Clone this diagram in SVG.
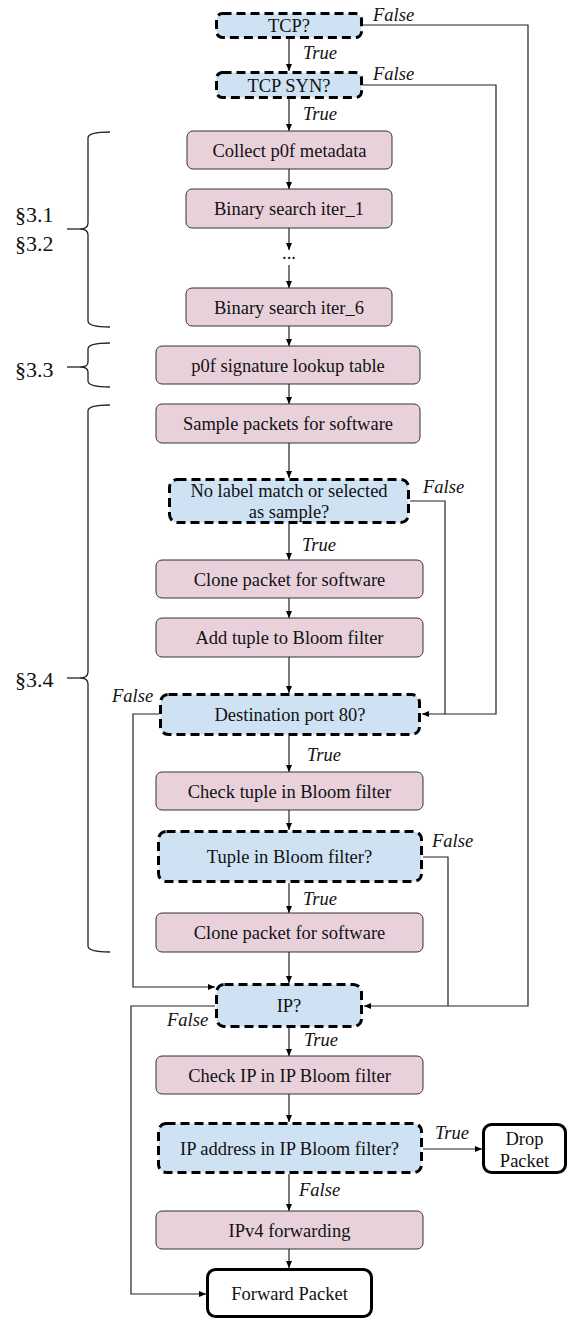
<svg xmlns="http://www.w3.org/2000/svg" width="574" height="1320" viewBox="0 0 574 1320" font-family="Liberation Serif, Times New Roman, Tinos, DejaVu Serif, serif">
<defs>
<marker id="ah" markerWidth="7" markerHeight="6" refX="7" refY="3" orient="auto" markerUnits="userSpaceOnUse">
<path d="M0,0 L7,3 L0,6 Z" fill="#000"/>
</marker>
<style>
.p{fill:#e9d1dc;stroke:#333;stroke-width:1}
.d{fill:#cfe2f3;stroke:#000;stroke-width:3;stroke-dasharray:9 5}
.t{fill:#fff;stroke:#000;stroke-width:3}
text{font-family:'Liberation Serif','Times New Roman',serif}
.tx{font-size:18.5px;fill:#111;text-anchor:middle}
.lb{font-size:18.5px;font-style:italic;fill:#111}
.sec{font-size:22px;fill:#111}
.c{fill:none;stroke:#222;stroke-width:1.2}
.ca{fill:none;stroke:#222;stroke-width:1.2;marker-end:url(#ah)}
.br{fill:none;stroke:#222;stroke-width:1.3}
</style>
</defs>
<rect width="574" height="1320" fill="#fff"/>

<g id="connectors">
<path class="ca" d="M289,39 V71"/>
<path class="ca" d="M363,25 H528 V1006 H364"/>
<path class="ca" d="M289,99 V131"/>
<path class="ca" d="M363,85 H496 V714 H422"/>
<path class="ca" d="M289,169 V189"/>
<path class="ca" d="M289,228 V250"/>
<path class="ca" d="M289,265 V288"/>
<path class="ca" d="M289,326 V346"/>
<path class="ca" d="M289,384 V404"/>
<path class="ca" d="M289,443 V478"/>
<path class="c" d="M410,501 H445 V714"/>
<path class="ca" d="M289,524 V560"/>
<path class="ca" d="M289,598 V618"/>
<path class="ca" d="M289,657 V693"/>
<path class="ca" d="M159,714 H133 V987 H215"/>
<path class="ca" d="M289,736 V772"/>
<path class="ca" d="M289,810 V830"/>
<path class="c" d="M423,857 H448 V1006"/>
<path class="ca" d="M289,883 V913"/>
<path class="ca" d="M289,952 V983"/>
<path class="ca" d="M215,1006 H131 V1294 H206"/>
<path class="ca" d="M289,1028 V1056"/>
<path class="ca" d="M289,1094 V1122"/>
<path class="ca" d="M423,1149 H482"/>
<path class="ca" d="M289,1174 V1211"/>
<path class="ca" d="M289,1249 V1268"/>
</g>

<g id="labels">
<text class="lb" x="373" y="21">False</text>
<text class="lb" x="303" y="59">True</text>
<text class="lb" x="373" y="80">False</text>
<text class="lb" x="303" y="120">True</text>
<text class="lb" x="423" y="493">False</text>
<text class="lb" x="302" y="551">True</text>
<text class="lb" x="112" y="702">False</text>
<text class="lb" x="307" y="761">True</text>
<text class="lb" x="432" y="847">False</text>
<text class="lb" x="303" y="905">True</text>
<text class="lb" x="167" y="1026">False</text>
<text class="lb" x="304" y="1046">True</text>
<text class="lb" x="435" y="1139">True</text>
<text class="lb" x="299" y="1196">False</text>
</g>

<g id="dots">
<text class="tx" x="289" y="259">...</text>
</g>

<g id="braces">
<path class="br" d="M110,132 Q88,132 88,138 V223 Q88,229 80,229 Q88,229 88,235 V321 Q88,327 110,327"/>
<path class="br" d="M67,229 H80"/>
<path class="br" d="M110,343 Q88,343 88,349 V362 Q88,367 80,367 Q88,367 88,372 V381 Q88,387 110,387"/>
<path class="br" d="M67,367 H80"/>
<path class="br" d="M110,405 Q88,405 88,411 V672 Q88,678 80,678 Q88,678 88,684 V946 Q88,952 110,952"/>
<path class="br" d="M67,678 H80"/>
<text class="sec" x="15" y="222">§3.1</text>
<text class="sec" x="15" y="251">§3.2</text>
<text class="sec" x="15" y="377">§3.3</text>
<text class="sec" x="15" y="687">§3.4</text>
</g>

<g id="n_tcp"><rect class="d" x="216.5" y="13.5" width="145" height="24" rx="6"/><text class="tx" x="289" y="32">TCP?</text></g>
<g id="n_syn"><rect class="d" x="216.5" y="72.5" width="145" height="25" rx="6"/><text class="tx" x="289" y="91.5">TCP SYN?</text></g>
<g id="n_collect"><rect class="p" x="187" y="131" width="205" height="38" rx="6"/><text class="tx" x="289.5" y="156.5">Collect p0f metadata</text></g>
<g id="n_iter1"><rect class="p" x="186" y="189" width="206" height="39" rx="6"/><text class="tx" x="289" y="215">Binary search iter_1</text></g>
<g id="n_iter6"><rect class="p" x="186" y="288" width="206" height="38" rx="6"/><text class="tx" x="289" y="313.5">Binary search iter_6</text></g>
<g id="n_p0f"><rect class="p" x="156" y="346" width="264" height="38" rx="6"/><text class="tx" x="288" y="371.5">p0f signature lookup table</text></g>
<g id="n_sample"><rect class="p" x="156" y="404" width="264" height="39" rx="6"/><text class="tx" x="288" y="430">Sample packets for software</text></g>
<g id="n_nolabel"><rect class="d" x="169.5" y="479.5" width="239" height="43" rx="8"/><text class="tx" x="289" y="497">No label match or selected</text><text class="tx" x="289" y="518">as sample?</text></g>
<g id="n_clone1"><rect class="p" x="156" y="560" width="267" height="38" rx="6"/><text class="tx" x="289.5" y="585.5">Clone packet for software</text></g>
<g id="n_add"><rect class="p" x="156" y="618" width="267" height="39" rx="6"/><text class="tx" x="289.5" y="644">Add tuple to Bloom filter</text></g>
<g id="n_dest"><rect class="d" x="160.5" y="694.5" width="259" height="40" rx="8"/><text class="tx" x="290" y="721">Destination port 80?</text></g>
<g id="n_check"><rect class="p" x="156" y="772" width="267" height="38" rx="6"/><text class="tx" x="289.5" y="797.5">Check tuple in Bloom filter</text></g>
<g id="n_tuple"><rect class="d" x="158.5" y="831.5" width="263" height="50" rx="8"/><text class="tx" x="289.5" y="863">Tuple in Bloom filter?</text></g>
<g id="n_clone2"><rect class="p" x="156" y="913" width="267" height="39" rx="6"/><text class="tx" x="289.5" y="939">Clone packet for software</text></g>
<g id="n_ip"><rect class="d" x="216.5" y="984.5" width="145" height="42" rx="8"/><text class="tx" x="289" y="1012">IP?</text></g>
<g id="n_checkip"><rect class="p" x="156" y="1056" width="267" height="38" rx="6"/><text class="tx" x="289.5" y="1081.5">Check IP in IP Bloom filter</text></g>
<g id="n_ipaddr"><rect class="d" x="158.5" y="1123.5" width="263" height="49" rx="8"/><text class="tx" x="289.5" y="1154.5">IP address in IP Bloom filter?</text></g>
<g id="n_drop"><rect class="t" x="483.5" y="1124.5" width="82" height="48" rx="8"/><text class="tx" x="524.5" y="1145">Drop</text><text class="tx" x="524.5" y="1167">Packet</text></g>
<g id="n_ipv4"><rect class="p" x="156" y="1211" width="267" height="38" rx="6"/><text class="tx" x="289.5" y="1236.5">IPv4 forwarding</text></g>
<g id="n_fwd"><rect class="t" x="207.5" y="1269.5" width="164" height="47" rx="8"/><text class="tx" x="289.5" y="1299.5">Forward Packet</text></g>
</svg>
